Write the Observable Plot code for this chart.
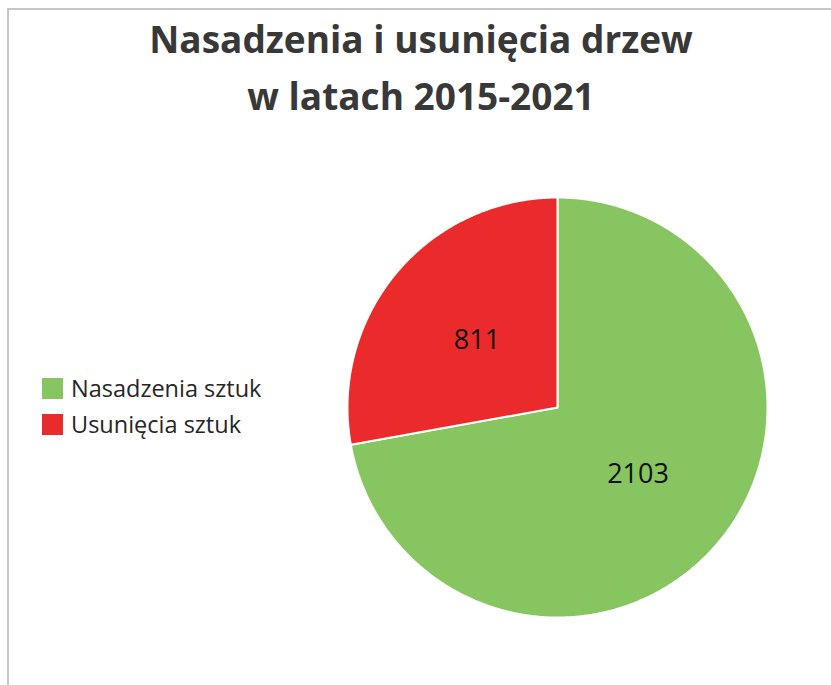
<!DOCTYPE html>
<html>
<head>
<meta charset="utf-8">
<script src="https://cdn.jsdelivr.net/npm/d3@7"></script>
<script src="https://cdn.jsdelivr.net/npm/@observablehq/plot@0.6"></script>
<style>
  html, body { margin: 0; padding: 0; background: #fff; }
  #wrap { position: relative; width: 831px; height: 685px; overflow: hidden; background: #fff; }
  #frame { position: absolute; left: 7px; top: 8px; width: 900px; height: 800px;
           border-left: 2px solid #c6c6c6; border-top: 2px solid #c6c6c6; }
  #title { position: absolute; left: 8px; top: 10px; width: 826px; text-align: center;
           font-family: "Open Sans", sans-serif; font-weight: 700; font-size: 37px;
           line-height: 57px; color: #383838; }
  #chart { position: absolute; left: 0; top: 0; }
  #legend { position: absolute; left: 42px; top: 370px; }
  #legend, #legend div, #legend span { font-family: "Open Sans", sans-serif !important; font-size: 23.5px !important; color: #262626 !important; }
  #legend > div { margin: 0 !important; columns: auto !important; }
  #legend > div > div { height: 36px !important; line-height: 36px !important; padding: 0 !important; margin: 0 !important; display: flex !important; align-items: center !important; white-space: nowrap; }
  #legend > div > div::before { content: none !important; }
  #legend svg { margin-right: 8px !important; margin-left: 0 !important; flex: none; }
</style>
</head>
<body>
<div id="wrap">
  <div id="frame"></div>
  <div id="title">Nasadzenia i usunięcia drzew<br>w latach 2015-2021</div>
  <div id="chart"></div>
  <div id="legend"></div>
</div>
<script>
// ---- data ----
const categories = ["Nasadzenia sztuk", "Usunięcia sztuk"];
const values = [2103, 811];
const colors = ["#86c55f", "#eb2b2b"];

// ---- build pie geometry with d3.pie (angles from data) ----
const arcs = d3.pie().sort(null).startAngle(0).endAngle(2 * Math.PI)(values)
  .map((a, i) => ({...a, name: categories[i]}));

const slicePts = [];
for (const a of arcs) {
  slicePts.push({name: a.name, x: 0, y: 0});
  const n = Math.max(8, Math.ceil((a.endAngle - a.startAngle) / 0.01));
  for (let k = 0; k <= n; k++) {
    const t = a.startAngle + (a.endAngle - a.startAngle) * k / n;
    slicePts.push({name: a.name, x: Math.sin(t), y: Math.cos(t)});
  }
  slicePts.push({name: a.name, x: 0, y: 0});
}

const labelR = 0.5;
const labels = arcs.map(a => {
  const m = (a.startAngle + a.endAngle) / 2;
  return {x: labelR * Math.sin(m), y: labelR * Math.cos(m), text: String(a.value)};
});

const chart = Plot.plot({
  width: 831,
  height: 685,
  marginLeft: 347,
  marginRight: 64,
  marginTop: 197,
  marginBottom: 68,
  x: {domain: [-1, 1], axis: null},
  y: {domain: [-1, 1], axis: null},
  color: {domain: categories, range: colors},
  style: {fontFamily: "Open Sans", background: "transparent", overflow: "visible"},
  marks: [
    Plot.line(slicePts, {x: "x", y: "y", z: "name", fill: "name", stroke: "#ffffff", strokeWidth: 2, strokeLinejoin: "miter"}),
    Plot.text(labels, {x: "x", y: "y", text: "text", fontSize: 27, fill: "#111"})
  ]
});
document.getElementById("chart").appendChild(chart);

const leg = Plot.legend({
  color: {domain: categories, range: colors},
  legend: "swatches",
  columns: 1,
  swatchSize: 21
});
document.getElementById("legend").appendChild(leg);
</script>
</body>
</html>
